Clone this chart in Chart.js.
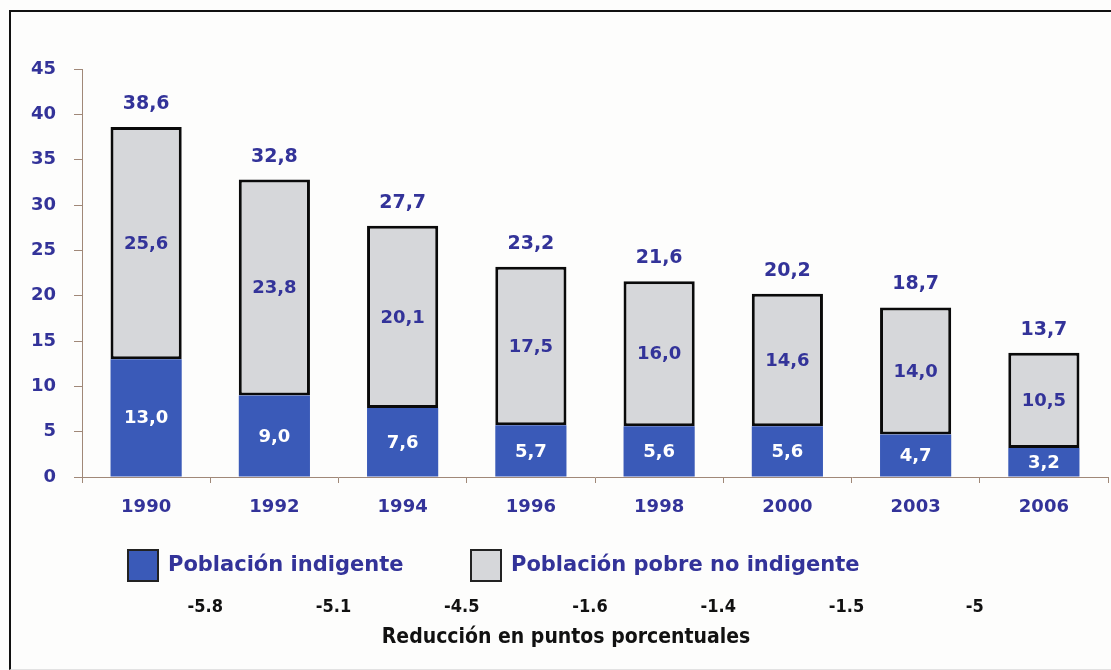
<!DOCTYPE html>
<html>
<head>
<meta charset="utf-8">
<script src="https://cdn.jsdelivr.net/npm/chart.js@4.4.1/dist/chart.umd.min.js"></script>
<style>
  html, body { margin: 0; padding: 0; background: #fff; }
  #wrap { position: relative; width: 1111px; height: 670px; overflow: hidden; background: #fdfdfc; }
  #frame { position: absolute; left: 9px; top: 10px; width: 1200px; height: 657px;
           border-left: 2px solid #111; border-top: 2px solid #111; border-bottom: 1px solid #e2e2e2; }
  canvas { position: absolute; left: 0; top: 0; }
</style>
</head>
<body>
<div id="wrap">
  <div id="frame"></div>
  <canvas id="chart" width="1111" height="670"></canvas>
</div>
<script>
const years = ['1990', '1992', '1994', '1996', '1998', '2000', '2003', '2006'];
const indigente = [13.0, 9.0, 7.6, 5.7, 5.6, 5.6, 4.7, 3.2];
const pobreNoIndigente = [25.6, 23.8, 20.1, 17.5, 16.0, 14.6, 14.0, 10.5];
const totales = [38.6, 32.8, 27.7, 23.2, 21.6, 20.2, 18.7, 13.7];
const reducciones = ['-5.8', '-5.1', '-4.5', '-1.6', '-1.4', '-1.5', '-5'];
const tituloReduccion = 'Reducción en puntos porcentuales';

const BLUE = '#3a5ab8';
const GRAY = '#d6d7da';
const INK = '#333399';
const AXIS = '#a08878';
const FONT = '"DejaVu Sans", Verdana, sans-serif';
const COND = '"DejaVu Sans Condensed", "DejaVu Sans", sans-serif';

const fmt = v => v.toFixed(1).replace('.', ',');

// labels in the segments, totals, legend and the reduction row
const extras = {
  id: 'extras',
  afterDatasetsDraw(chart) {
    const ctx = chart.ctx;
    ctx.save();
    ctx.textAlign = 'center';
    ctx.textBaseline = 'middle';
    ctx.font = 'bold 18px ' + FONT;

    const blueMeta = chart.getDatasetMeta(0);
    const grayMeta = chart.getDatasetMeta(1);
    blueMeta.data.forEach((bar, i) => {
      ctx.fillStyle = '#ffffff';
      ctx.fillText(fmt(indigente[i]), bar.x, (bar.y + bar.base) / 2 + 1);
    });
    grayMeta.data.forEach((bar, i) => {
      ctx.fillStyle = INK;
      ctx.fillText(fmt(pobreNoIndigente[i]), bar.x, (bar.y + bar.base) / 2 + 1);
      ctx.font = 'bold 19px ' + FONT;
      ctx.fillText(fmt(totales[i]), bar.x, bar.y - 23);
      ctx.font = 'bold 18px ' + FONT;
    });

    // legend
    const items = [
      { x: 127, ds: chart.data.datasets[0] },
      { x: 470, ds: chart.data.datasets[1] }
    ];
    ctx.textAlign = 'left';
    ctx.font = 'bold 21px ' + FONT;
    items.forEach(it => {
      ctx.fillStyle = it.ds.backgroundColor;
      ctx.fillRect(it.x, 549, 32, 33);
      ctx.lineWidth = 2;
      ctx.strokeStyle = '#222';
      ctx.strokeRect(it.x + 1, 550, 30, 31);
      ctx.fillStyle = INK;
      ctx.fillText(it.ds.label, it.x + 41, 566);
    });

    // reductions between successive years
    const x = chart.scales.x;
    ctx.textAlign = 'center';
    ctx.fillStyle = '#111';
    ctx.font = 'bold 18px ' + COND;
    reducciones.forEach((r, i) => {
      const mid = (x.getPixelForValue(i) + x.getPixelForValue(i + 1)) / 2 - 5;
      ctx.fillText(r, mid, 607);
    });
    ctx.font = 'bold 21px ' + COND;
    ctx.fillText(tituloReduccion, 566, 638);
    ctx.restore();
  }
};

new Chart(document.getElementById('chart'), {
  type: 'bar',
  data: {
    labels: years,
    datasets: [
      {
        label: 'Población indigente',
        data: indigente,
        backgroundColor: BLUE,
        borderWidth: 0,
        barPercentage: 0.555,
        categoryPercentage: 1
      },
      {
        label: 'Población pobre no indigente',
        data: pobreNoIndigente,
        backgroundColor: GRAY,
        borderColor: '#0a0a0a',
        borderWidth: 3,
        borderSkipped: false,
        barPercentage: 0.555,
        categoryPercentage: 1
      }
    ]
  },
  options: {
    responsive: false,
    animation: false,
    devicePixelRatio: 1,
    layout: { padding: { top: 69, right: 3, left: 0, bottom: 0 } },
    plugins: {
      legend: { display: false },
      tooltip: { enabled: false }
    },
    scales: {
      x: {
        stacked: true,
        grid: { drawOnChartArea: false, drawTicks: true, tickLength: 6, color: AXIS },
        border: { color: AXIS, width: 1 },
        ticks: { color: INK, font: { family: FONT, size: 18, weight: 'bold' }, padding: 14 },
        afterFit(s) { s.height = 193; }
      },
      y: {
        stacked: true,
        min: 0,
        max: 45,
        grid: { drawOnChartArea: false, drawTicks: true, tickLength: 8, color: AXIS },
        border: { color: AXIS, width: 1 },
        ticks: { stepSize: 5, color: INK, font: { family: FONT, size: 18, weight: 'bold' }, padding: 18 },
        afterFit(s) { s.width = 82; }
      }
    }
  },
  plugins: [extras]
});
</script>
</body>
</html>
